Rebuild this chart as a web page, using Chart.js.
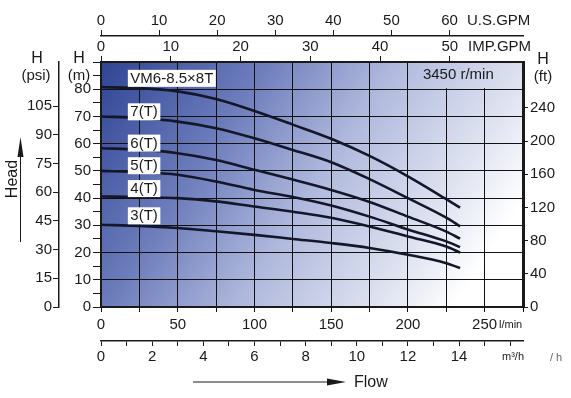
<!DOCTYPE html>
<html>
<head>
<meta charset="utf-8">
<script src="https://cdn.jsdelivr.net/npm/chart.js@4.4.1/dist/chart.umd.min.js"></script>
<style>
  html, body { margin: 0; padding: 0; background: #fff; }
  #wrap { width: 571px; height: 398px; position: relative; }
</style>
</head>
<body>
<div id="wrap"><canvas id="pumpChart"></canvas></div>
<script>
// flow points in l/min, head in m
const flow = [0, 25, 50, 75, 100, 125, 150, 175, 200, 225, 234];
const head8T = [80.8, 80.4, 79.2, 76.4, 72.0, 67.0, 61.8, 55.5, 48.0, 39.6, 36.5];
const head7T = [70.0, 69.4, 68.1, 65.7, 62.0, 57.7, 53.2, 47.0, 40.0, 32.8, 29.6];
const head6T = [58.3, 57.8, 56.5, 54.0, 50.4, 46.8, 43.0, 38.6, 33.2, 27.7, 25.1];
const head5T = [50.0, 49.6, 48.6, 46.1, 43.0, 40.4, 37.3, 33.2, 28.5, 24.1, 22.0];
const head4T = [40.6, 40.4, 40.0, 38.8, 36.9, 35.0, 32.8, 29.6, 25.9, 22.2, 20.0];
const head3T = [30.2, 29.8, 29.0, 27.8, 26.5, 25.0, 23.5, 21.7, 19.2, 16.1, 14.3];

const curveNames = ["VM6-8.5×8T", "7(T)", "6(T)", "5(T)", "4(T)", "3(T)"];
const curveLabelHead = [84, 71.7, 60.2, 51.9, 43.5, 33.5]; // m, label centre
const curveLabelFlow = 17.5; // l/min, label left edge

const flowMax = 275;   // l/min
const headMax = 90;    // m
const speedText = "3450 r/min";

const FONT = "'Liberation Sans', Arial, sans-serif";
const INK = "#1a1a1a";
const LINE = "#14172a";

function keepTicks(limit) {
  return (s) => { s.ticks = s.ticks.filter((t) => t.value <= limit + 1e-6); };
}

const allHeads = [head8T, head7T, head6T, head5T, head4T, head3T];

// gradient background of the plot area
const bgPlugin = {
  id: "bg",
  beforeDraw(chart) {
    const { ctx, chartArea: a } = chart;
    const g = ctx.createLinearGradient(a.left, a.top, a.left + (a.right - a.left) * 0.9, a.bottom);
    g.addColorStop(0, "rgb(48,68,148)");
    g.addColorStop(0.3, "rgb(108,124,187)");
    g.addColorStop(0.55, "rgb(176,185,221)");
    g.addColorStop(0.8, "rgb(222,226,240)");
    g.addColorStop(0.95, "rgb(255,255,255)");
    chart.$grad = g;
    ctx.save();
    ctx.fillStyle = g;
    ctx.fillRect(a.left, a.top, a.right - a.left, a.bottom - a.top);
    ctx.restore();
  },
  beforeDatasetsDraw(chart) {
    // speed box in the top right cell, hides the grid lines there
    const { ctx, chartArea: a, scales } = chart;
    const l = scales.x.getPixelForValue(200) + 1;
    const b = scales.y.getPixelForValue(80) - 1;
    ctx.save();
    ctx.fillStyle = chart.$grad;
    ctx.fillRect(l, a.top + 1, a.right - 2 - l, b - a.top - 1);
    ctx.fillStyle = INK;
    ctx.font = "15px " + FONT;
    ctx.textBaseline = "middle";
    ctx.textAlign = "left";
    ctx.fillText(speedText, l + 14, (a.top + b) / 2);
    ctx.restore();
  },
  afterDatasetsDraw(chart) {
    const { ctx, scales } = chart;
    ctx.save();
    ctx.font = "15px " + FONT;
    ctx.textBaseline = "middle";
    ctx.textAlign = "left";
    curveNames.forEach((name, i) => {
      const x = scales.x.getPixelForValue(curveLabelFlow);
      const y = scales.y.getPixelForValue(curveLabelHead[i]);
      const w = ctx.measureText(name).width;
      ctx.fillStyle = "#fff";
      ctx.fillRect(x, y - 8.5, w + 5, 17);
      ctx.fillStyle = INK;
      ctx.fillText(name, x + 2.5, y + 0.5);
    });
    ctx.restore();
  },
  afterDraw(chart) {
    const { ctx } = chart;
    ctx.save();
    ctx.fillStyle = INK;
    ctx.strokeStyle = INK;
    ctx.textBaseline = "middle";
    ctx.textAlign = "center";
    // axis titles
    ctx.font = "16px " + FONT;
    ctx.fillText("H", 37, 59);
    ctx.fillText("H", 79, 59);
    ctx.fillText("H", 543, 60);
    ctx.font = "15px " + FONT;
    ctx.fillText("(psi)", 36, 76);
    ctx.fillText("(m)", 79, 76);
    ctx.fillText("(ft)", 543, 77);
    ctx.textAlign = "left";
    ctx.fillText("U.S.GPM", 467, 21);
    ctx.fillText("IMP.GPM", 468, 47);
    ctx.font = "11px " + FONT;
    ctx.fillText("l/min", 499, 325);
    ctx.fillText("m³/h", 502, 357);
    ctx.fillStyle = "#666";
    ctx.fillText("/ h", 550, 358);
    ctx.fillStyle = INK;
    // flow arrow
    ctx.lineWidth = 1;
    ctx.beginPath();
    ctx.moveTo(193, 382);
    ctx.lineTo(330, 382);
    ctx.stroke();
    ctx.beginPath();
    ctx.moveTo(346, 382);
    ctx.lineTo(327, 378.5);
    ctx.lineTo(327, 385.5);
    ctx.closePath();
    ctx.fill();
    ctx.font = "16px " + FONT;
    ctx.fillText("Flow", 354, 383);
    // head arrow
    ctx.beginPath();
    ctx.moveTo(20.5, 242);
    ctx.lineTo(20.5, 152);
    ctx.stroke();
    ctx.beginPath();
    ctx.moveTo(20.5, 137);
    ctx.lineTo(17.5, 157);
    ctx.lineTo(23.5, 157);
    ctx.closePath();
    ctx.fill();
    ctx.translate(13, 179);
    ctx.rotate(-Math.PI / 2);
    ctx.textAlign = "center";
    ctx.fillText("Head", 0, 0);
    ctx.restore();
  },
};

const tickFont = { family: FONT, size: 15 };

new Chart(document.getElementById("pumpChart"), {
  type: "line",
  data: {
    datasets: allHeads.map((h, i) => ({
      label: curveNames[i],
      data: flow.map((f, k) => ({ x: f, y: h[k] })),
      borderColor: LINE,
      borderWidth: 2.6,
      pointRadius: 0,
      fill: false,
      cubicInterpolationMode: "monotone",
    })),
  },
  options: {
    responsive: true,
    maintainAspectRatio: false,
    animation: false,
    layout: { padding: { top: 12, bottom: 32, left: 0, right: 0 } },
    plugins: { legend: { display: false }, tooltip: { enabled: false } },
    scales: {
      x: {
        type: "linear", position: "bottom", weight: 0, min: 0, max: flowMax,
        afterFit: (s) => { s.height = 34; },
        border: { color: INK, width: 2 },
        grid: { color: "#111", lineWidth: 1, tickLength: 5 },
        ticks: {
          stepSize: 25, padding: 4, color: INK, font: tickFont, maxRotation: 0, autoSkip: false, includeBounds: false,
          callback: (v) => (v % 50 === 0 && v <= 250 ? v : ""),
        },
      },
      xM3: {
        type: "linear", position: "bottom", weight: 1, min: 0, max: flowMax * 0.06,
        afterFit: (s) => { s.height = 25; },
        afterBuildTicks: keepTicks(16),
        border: { color: INK, width: 1.5 },
        grid: { drawOnChartArea: false, color: INK, tickLength: 5 },
        ticks: {
          stepSize: 1, padding: 2, color: INK, font: tickFont, maxRotation: 0, autoSkip: false, includeBounds: false,
          callback: (v) => (v % 2 === 0 && v <= 14 ? v : ""),
        },
      },
      xIMP: {
        type: "linear", position: "top", weight: 0, min: 0, max: flowMax / 4.54609,
        afterFit: (s) => { s.height = 26; },
        afterBuildTicks: keepTicks(50),
        border: { color: INK, width: 2 },
        grid: { drawOnChartArea: false, color: INK, tickLength: 6 },
        ticks: { stepSize: 10, padding: 0, color: INK, font: tickFont, maxRotation: 0, autoSkip: false, includeBounds: false },
      },
      xUS: {
        type: "linear", position: "top", weight: 1, min: 0, max: flowMax / 3.78541,
        afterFit: (s) => { s.height = 24; },
        afterBuildTicks: keepTicks(60),
        border: { color: INK, width: 1.5 },
        grid: { drawOnChartArea: false, color: INK, tickLength: 6 },
        ticks: { stepSize: 10, padding: 0, color: INK, font: tickFont, maxRotation: 0, autoSkip: false, includeBounds: false },
      },
      y: {
        type: "linear", position: "left", weight: 0, min: 0, max: headMax,
        afterFit: (s) => { s.width = 42; },
        border: { color: INK, width: 2 },
        grid: {
          color: (c) => (c.tick && c.tick.value % 10 === 0 ? "#111" : "rgba(0,0,0,0)"),
          tickColor: INK, lineWidth: 1, tickLength: 8,
        },
        ticks: {
          stepSize: 5, padding: 2, color: INK, font: tickFont, autoSkip: false,
          callback: (v) => (v % 10 === 0 && v <= 80 ? v : ""),
        },
      },
      yPsi: {
        type: "linear", position: "left", weight: 1, min: 0, max: headMax * 1.42233,
        afterFit: (s) => { s.width = 59; },
        afterBuildTicks: keepTicks(105),
        border: { color: INK, width: 1.5 },
        grid: { drawOnChartArea: false, color: INK, tickLength: 6 },
        ticks: { stepSize: 15, padding: 1, color: INK, font: tickFont, autoSkip: false, includeBounds: false },
      },
      yFt: {
        type: "linear", position: "right", min: 0, max: headMax * 3.28084,
        afterFit: (s) => { s.width = 48; },
        afterBuildTicks: keepTicks(240),
        border: { color: INK, width: 3 },
        grid: { drawOnChartArea: false, color: INK, tickLength: 5 },
        ticks: { stepSize: 40, padding: 2, color: INK, font: tickFont, autoSkip: false, includeBounds: false },
      },
    },
  },
  plugins: [bgPlugin],
});
</script>
</body>
</html>
